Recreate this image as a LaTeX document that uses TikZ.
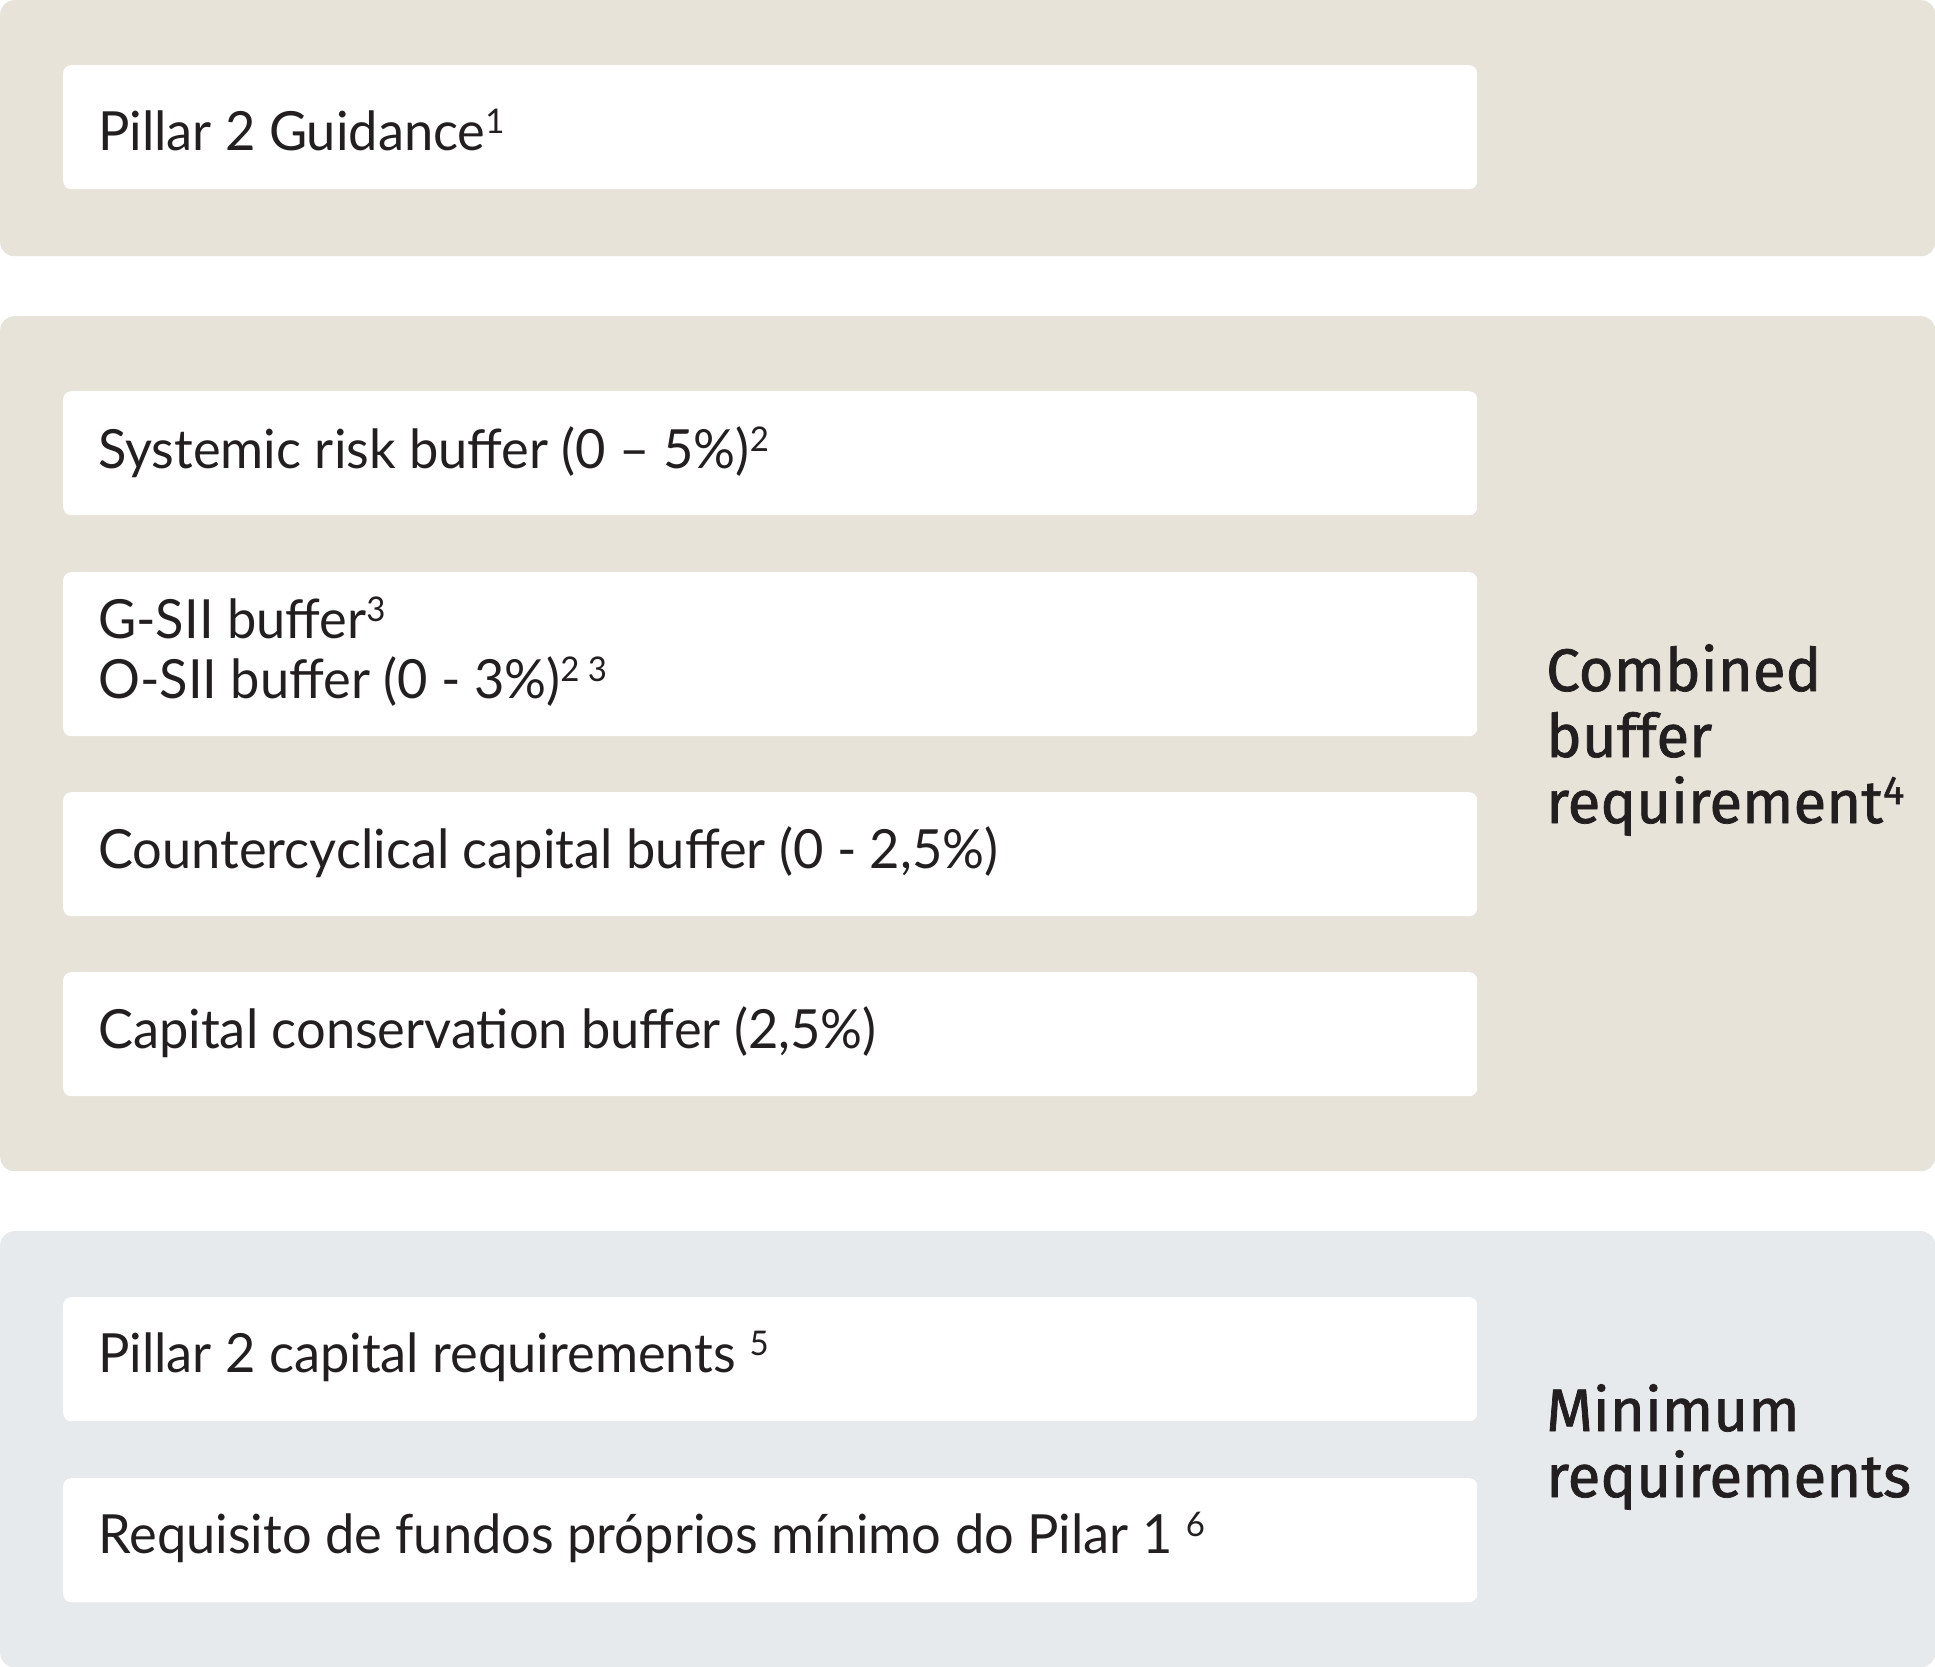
\documentclass[tikz,border=0pt]{standalone}
\usepackage{fontspec}
\setmainfont{Lato}[FakeStretch=0.97]
\newfontfamily\headfont{Fira Sans}[FakeBold=1.2]
\definecolor{sand}{RGB}{231,227,217}
\definecolor{mist}{RGB}{231,234,237}
\definecolor{ink}{RGB}{35,31,32}
\newcommand{\sups}[1]{\raisebox{17pt}{\fontsize{34}{34}\selectfont #1}}
\newcommand{\headsups}[1]{\raisebox{19pt}{\fontsize{40}{40}\selectfont #1}}
\tikzset{
	panel/.style={fill=#1, rounded corners=14pt, anchor=north west, minimum width=1935pt, inner sep=0pt},
	slot/.style={fill=white, rounded corners=8pt, anchor=north west, minimum width=1414pt, minimum height=124pt, inner sep=0pt},
	txt/.style={anchor=base west, inner sep=0pt, text=ink, font=\fontsize{54}{60}\selectfont, align=left},
	head/.style={anchor=base west, inner sep=0pt, text=ink, font=\headfont\fontsize{60}{66}\selectfont, align=left}
}
\begin{document}
\begin{tikzpicture}[x=1pt, y=-1pt]
			\useasboundingbox (0, 0) rectangle (1935, 1667);
			\node[panel=sand, minimum height=256pt] (guide) at (0, 0) {};
			\node[panel=sand, minimum height=855pt] (cbr) at (0, 316) {};
			\node[panel=mist, minimum height=436pt] (minreq) at (0, 1231) {};
			\node[slot] (p2g) at (63, 65) {};
			\node[slot] (srb) at (63, 391) {};
			\node[slot, minimum height=164pt] (sii) at (63, 572) {};
			\node[slot] (ccyb) at (63, 792) {};
			\node[slot] (ccb) at (63, 972) {};
			\node[slot] (p2r) at (63, 1297) {};
			\node[slot] (p1r) at (63, 1478) {};
			% base of a two-line node is its last line
			\node[txt] (p2g-t) at (98, 150) {Pillar 2 Guidance\sups{1}};
			\node[txt] (srb-t) at (98, 468) {Systemic risk buffer (0 – 5\%)\sups{2}};
			\node[txt] (sii-t) at (98, 698) {G-SII buffer\sups{3}\\O-SII buffer (0 - 3\%)\sups{2 3}};
			\node[txt] (ccyb-t) at (98, 868) {Countercyclical capital buffer (0 - 2,5\%)};
			\node[txt] (ccb-t) at (98, 1048) {Capital conservation buffer (2,5\%)};
			\node[txt] (p2r-t) at (98, 1372) {Pillar 2 capital requirements \sups{5}};
			\node[txt] (p1r-t) at (98, 1553) {Requisito de fundos próprios mínimo do Pilar 1 \sups{6}};
			\node[head] (cbr-t) at (1546, 823) {Combined\\buffer\\requirement\headsups{4}};
			\node[head] (minreq-t) at (1546, 1497) {Minimum\\requirements};
		\end{tikzpicture}
\end{document}
